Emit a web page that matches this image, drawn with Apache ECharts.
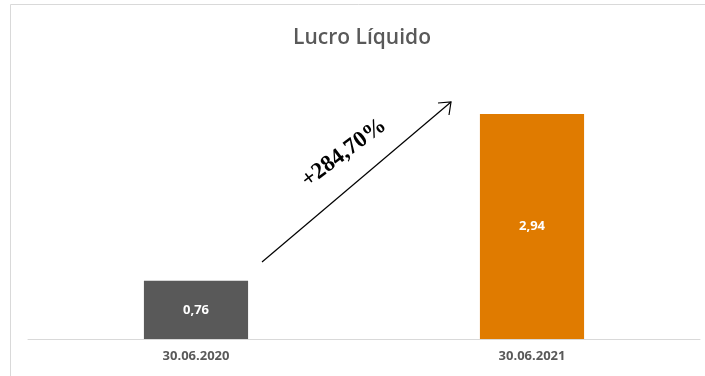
<!DOCTYPE html>
<html><head><meta charset="utf-8">
<script src="https://cdn.jsdelivr.net/npm/echarts@6/dist/echarts.min.js"></script>
<style>html,body{margin:0;padding:0;background:#fff}#c{width:705px;height:376px}</style>
</head><body><div id="c"></div>
<script>
const categories = ['30.06.2020', '30.06.2021'];
const values = [0.76, 2.94];
const barColors = ['#595959', '#E07B00'];
const titleText = 'Lucro Líquido';
const growthText = '+284,70%';

const chart = echarts.init(document.getElementById('c'));
chart.setOption({
  animation: false,
  title: {
    text: titleText, left: 288, top: 23,
    textStyle: { fontFamily: 'Open Sans', fontSize: 21, fontWeight: 600, color: '#595959' }
  },
  grid: { left: 28, right: 5, top: 71, bottom: 37 },
  xAxis: {
    type: 'category', data: categories,
    axisLine: { lineStyle: { color: '#d9d9d9', width: 1 } },
    axisTick: { show: false },
    axisLabel: { color: '#595959', fontFamily: 'Open Sans', fontWeight: 'bold', fontSize: 13, margin: 11 }
  },
  yAxis: { type: 'value', min: 0, max: 3.5, show: false, splitLine: { show: false } },
  series: [{
    type: 'bar', barWidth: '31%',
    data: values.map((v, i) => ({ value: v, itemStyle: { color: barColors[i] } })),
    label: {
      show: true, position: 'inside', color: '#fff', fontFamily: 'Open Sans', fontWeight: 'bold', fontSize: 13,
      formatter: p => p.value.toFixed(2).replace('.', ',')
    }
  }],
  graphic: [
    { type: 'rect', shape: { x: 10.5, y: 4.5, width: 710, height: 400 }, style: { fill: 'none', stroke: '#d9d9d9', lineWidth: 1 }, silent: true },
    { type: 'line', shape: { x1: 262, y1: 262, x2: 451, y2: 102 }, style: { stroke: '#000', lineWidth: 1.2 } },
    { type: 'polyline', shape: { points: [[438, 103], [451, 102], [449, 115]] }, style: { stroke: '#000', lineWidth: 1.2, fill: 'none' } },
    { type: 'text', x: 344, y: 153, rotation: 37 * Math.PI / 180,
      style: { text: growthText, fontFamily: 'Liberation Serif', fontWeight: 'bold', fontSize: 23, fill: '#000', textAlign: 'center', textVerticalAlign: 'middle' } }
  ]
});
</script></body></html>
